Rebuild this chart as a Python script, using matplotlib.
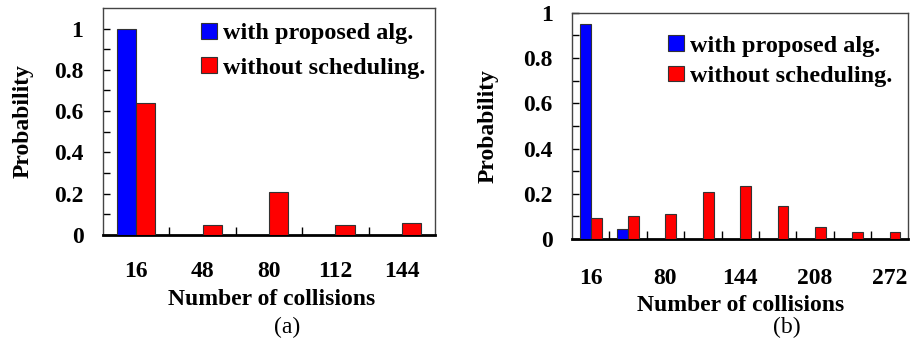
import matplotlib
matplotlib.use("Agg")
import matplotlib.pyplot as plt
import numpy as np

# ── Data ──────────────────────────────────────────────────────────────────────
CATS_A = ["16", "48", "80", "112", "144"]
PROPOSED_A = [1.0, 0.0, 0.0, 0.0, 0.0]
NOSCHED_A = [0.64, 0.047, 0.21, 0.047, 0.06]

CATS_B = ["16", "48", "80", "112", "144", "176", "208", "240", "272"]
PROPOSED_B = [0.95, 0.045, 0.0, 0.0, 0.0, 0.0, 0.0, 0.0, 0.0]
NOSCHED_B = [0.091, 0.10, 0.11, 0.206, 0.233, 0.144, 0.052, 0.03, 0.03]

BLUE = "#0000ff"
RED = "#ff0000"
FS = 17

plt.rcParams.update({
    "font.family": "Liberation Serif",
    "font.weight": "bold",
    "font.size": FS,
})


def draw_panel(ax, cats, proposed, nosched, ylim, label_every, leg_anchor, leg_spacing, xpad):
    x = np.arange(len(cats))
    w = 0.29
    ax.bar(x - w / 2, proposed, w, color=BLUE, edgecolor="#333333", linewidth=0.8,
           label="with proposed alg.", zorder=3)
    ax.bar(x + w / 2, nosched, w, color=RED, edgecolor="#333333", linewidth=0.8,
           label="without scheduling.", zorder=3)

    ax.set_xlim(-0.5, len(cats) - 0.5)
    ax.set_ylim(*ylim)

    ax.set_xticks(x[::label_every])
    ax.set_xticklabels(cats[::label_every], fontweight="bold")
    ax.set_xticks(np.arange(len(cats) - 1) + 0.5, minor=True)
    ax.tick_params(axis="x", which="major", length=0, pad=xpad)
    ax.tick_params(axis="x", which="minor", direction="in", length=6, width=1)

    ax.set_yticks(np.arange(0, 1.01, 0.2))
    ax.set_yticklabels(["0", "0.2", "0.4", "0.6", "0.8", "1"], fontweight="bold")
    ax.set_yticks(np.arange(0.1, 1.0, 0.2), minor=True)
    ax.tick_params(axis="y", which="both", direction="in", length=5, width=1, pad=14)

    for s in ax.spines.values():
        s.set_color("#444444")
        s.set_linewidth(1)
    ax.spines["bottom"].set_color("black")
    ax.spines["bottom"].set_linewidth(2)

    ax.set_ylabel("Probability", fontweight="bold")
    ax.set_xlabel("Number of collisions", fontweight="bold")

    ax.legend(loc="upper left", bbox_to_anchor=leg_anchor, frameon=False,
              borderpad=0, borderaxespad=0, handlelength=0.63, handleheight=0.63,
              handletextpad=0.25, labelspacing=leg_spacing,
              prop={"family": "Liberation Serif", "weight": "bold", "size": 17.5})


fig = plt.figure(figsize=(9.11, 3.43), dpi=100)
ax_a = fig.add_axes([0.113, 0.315, 0.3645, 0.662])
ax_b = fig.add_axes([0.628, 0.303, 0.369, 0.660])

draw_panel(ax_a, CATS_A, PROPOSED_A, NOSCHED_A, (0, 1.10), 1, (0.296, 0.935), 0.53, 19)
draw_panel(ax_b, CATS_B, PROPOSED_B, NOSCHED_B, (0, 1.0), 2, (0.286, 0.90), 0.36, 21)

ax_a.yaxis.set_label_coords(-0.21, 0.5)
ax_a.xaxis.set_label_coords(0.507, -0.238)
ax_b.yaxis.set_label_coords(-0.219, 0.5)
ax_b.xaxis.set_label_coords(0.50, -0.245)

fig.text(0.315, 0.044, "(a)", ha="center", va="center", fontsize=FS, fontweight="normal")
fig.text(0.8636, 0.044, "(b)", ha="center", va="center", fontsize=FS, fontweight="normal")

fig.savefig("out.png", dpi=100)
